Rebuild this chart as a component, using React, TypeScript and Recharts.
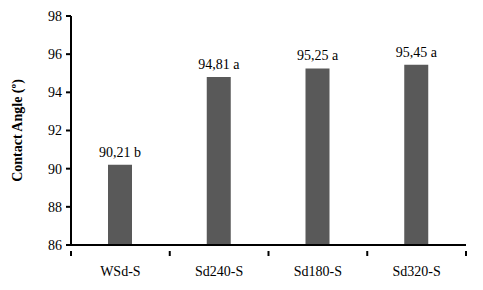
import { BarChart, Bar, XAxis, YAxis, LabelList, Label } from "recharts";

const samples = ["WSd-S", "Sd240-S", "Sd180-S", "Sd320-S"];
const angles = [90.21, 94.81, 95.25, 95.45];
const groups = ["b", "a", "a", "a"];
const yTicks = [86, 88, 90, 92, 94, 96, 98];

const data = samples.map((s, i) => ({
  name: s,
  angle: angles[i],
  tag: `${angles[i].toFixed(2).replace(".", ",")} ${groups[i]}`,
}));

const font = "'Liberation Serif', 'Times New Roman', serif";

const TopTag = (props: any) => {
  const { x, y, width, value } = props;
  return (
    <text x={x + width / 2} y={y - 8} textAnchor="middle" fill="#000" fontSize={14} fontFamily={font}>
      {value}
    </text>
  );
};

// category label plus tick marks on the category boundaries
const CatTick = (props: any) => {
  const { x, y, payload, index, visibleTicksCount, width } = props;
  const half = width / visibleTicksCount / 2;
  const top = y - 14;
  return (
    <g>
      <line x1={x - half} x2={x - half} y1={top} y2={top + 5} stroke="#000" strokeWidth={2} />
      {index === visibleTicksCount - 1 && (
        <line x1={x + half} x2={x + half} y1={top} y2={top + 5} stroke="#000" strokeWidth={2} />
      )}
      <text x={x} y={y} dy={11} textAnchor="middle" fill="#000" fontSize={14} fontFamily={font}>
        {payload.value}
      </text>
    </g>
  );
};

export default function App() {
  return (
    <div style={{ position: "absolute", left: 0, top: 0, background: "#fff" }}>
      <BarChart
        width={483}
        height={290}
        data={data}
        margin={{ top: 16, right: 17, bottom: 15, left: 0 }}
        style={{ fontFamily: font }}
      >
        <XAxis
          dataKey="name"
          tickLine={false}
          axisLine={{ stroke: "#000", strokeWidth: 2 }}
          tick={<CatTick />}
          tickMargin={14}
          height={30}
        />
        <YAxis
          domain={[86, 98]}
          ticks={yTicks}
          width={71}
          tickSize={5}
          tickLine={{ stroke: "#000", strokeWidth: 2 }}
          axisLine={{ stroke: "#000", strokeWidth: 2 }}
          tick={{ fill: "#000", fontSize: 14, fontFamily: font }}
          tickMargin={4}
        >
          <Label
            value="Contact Angle (º)"
            angle={-90}
            position="insideLeft"
            dx={12}
            style={{ fontWeight: "bold", fontSize: 14, fill: "#000", fontFamily: font, textAnchor: "middle" }}
          />
        </YAxis>
        <Bar dataKey="angle" fill="#595959" barSize={24} isAnimationActive={false}>
          <LabelList dataKey="tag" content={TopTag} />
        </Bar>
      </BarChart>
    </div>
  );
}
